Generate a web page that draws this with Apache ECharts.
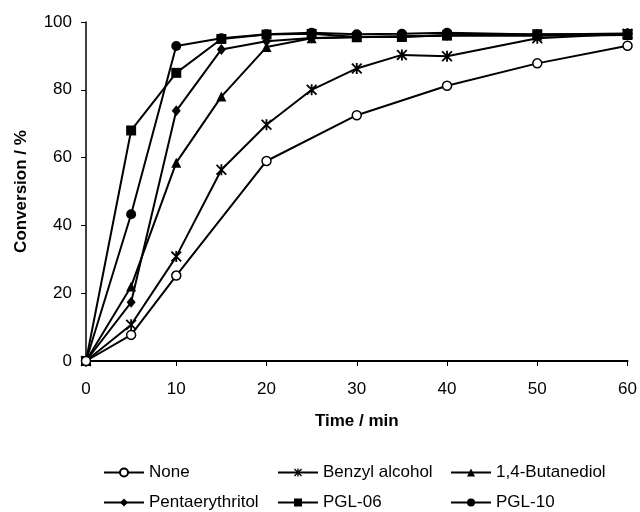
<!DOCTYPE html>
<html><head><meta charset="utf-8">
<script src="https://cdn.jsdelivr.net/npm/echarts@6/dist/echarts.min.js"></script>
<style>html,body{margin:0;padding:0;background:#fff}#c{width:640px;height:512px}</style>
</head><body><div id="c"></div>
<script>
const seriesNames = ['None', 'Benzyl alcohol', '1,4-Butanediol', 'Pentaerythritol', 'PGL-06', 'PGL-10'];
const timeNone = [0, 5, 10, 20, 30, 40, 50, 60];
const valNone = [0, 7.7, 25.2, 59, 72.5, 81.2, 87.8, 93];
const timeAll = [0, 5, 10, 15, 20, 25, 30, 35, 40, 50, 60];
const valBenzyl = [0, 10.7, 30.8, 56.4, 69.7, 80, 86.3, 90.3, 89.9, 95.2, 96.5];
const valButanediol = [0, 22, 58.5, 78, 92.6, 95.2, 95.5, 95.7, 96, 96, 96.2];
const valPenta = [0, 17.3, 73.8, 91.9, 94.3, 95.3, 95.6, 95.8, 96, 96, 96.2];
const valPGL06 = [0, 68, 85, 95, 96.3, 96.5, 95.6, 95.6, 96.1, 96.4, 96.4];
const valPGL10 = [0, 43.3, 92.9, 95.2, 96.4, 96.8, 96.4, 96.5, 96.8, 96.3, 96.6];

const asterisk = 'path://M5,0 L7,0 L7,12 L5,12 Z M0,1.4 L1.4,0 L12,10.6 L10.6,12 Z M10.6,0 L12,1.4 L1.4,12 L0,10.6 Z';

function pairs(xs, ys) { return xs.map((x, i) => [x, ys[i]]); }

const seriesDefs = [
  { data: pairs(timeNone, valNone), symbol: 'circle', size: 9, fill: '#fff' },
  { data: pairs(timeAll, valBenzyl), symbol: asterisk, size: 11, fill: '#000' },
  { data: pairs(timeAll, valButanediol), symbol: 'triangle', size: 10, fill: '#000' },
  { data: pairs(timeAll, valPenta), symbol: 'diamond', size: [9, 11], fill: '#000' },
  { data: pairs(timeAll, valPGL06), symbol: 'rect', size: 10, fill: '#000' },
  { data: pairs(timeAll, valPGL10), symbol: 'circle', size: 10, fill: '#000' }
];

const font = '"Liberation Sans", Arial, sans-serif';
// legend layout: [series index, left, top]
const legendPos = [[0, 103, 464], [1, 277, 464], [2, 450, 464], [3, 103, 494], [4, 277, 494], [5, 450, 494]];

const chart = echarts.init(document.getElementById('c'), null, { renderer: 'canvas' });
chart.setOption({
  animation: false,
  backgroundColor: '#fff',
  grid: { left: 86, right: 12, top: 22, bottom: 151, containLabel: false },
  xAxis: {
    type: 'value', min: 0, max: 60, interval: 10,
    name: 'Time / min', nameLocation: 'middle', nameGap: 52,
    nameTextStyle: { fontFamily: font, fontWeight: 'bold', fontSize: 17, color: '#000' },
    axisLine: { show: true, lineStyle: { color: '#000', width: 2 } },
    axisTick: { show: true, length: 5, lineStyle: { color: '#000' } },
    axisLabel: { fontFamily: font, fontSize: 17, color: '#000', margin: 20 },
    splitLine: { show: false }
  },
  yAxis: {
    type: 'value', min: 0, max: 100, interval: 20,
    name: 'Conversion / %', nameLocation: 'middle', nameGap: 56,
    nameTextStyle: { fontFamily: font, fontWeight: 'bold', fontSize: 17, color: '#000' },
    axisLine: { show: true, lineStyle: { color: '#000', width: 1.5 } },
    axisTick: { show: true, length: 5, lineStyle: { color: '#000' } },
    axisLabel: { fontFamily: font, fontSize: 17, color: '#000', margin: 14 },
    splitLine: { show: false }
  },
  legend: legendPos.map(([si, l, t]) => ({
    left: l, top: t, padding: 0,
    itemWidth: 40, itemHeight: 10, itemGap: 0,
    textStyle: { fontFamily: font, fontSize: 17, color: '#000' },
    data: [seriesNames[si]],
    selectedMode: false
  })),
  series: seriesDefs.map((d, i) => ({
    name: seriesNames[i], type: 'line', data: d.data,
    symbol: d.symbol, symbolSize: d.size, showAllSymbol: true,
    lineStyle: { color: '#000', width: 2 },
    itemStyle: { color: d.fill, borderColor: '#000', borderWidth: d.fill === '#fff' ? 1.5 : 0 },
    emphasis: { disabled: true },
    z: 10 - i
  }))
});
</script></body></html>
